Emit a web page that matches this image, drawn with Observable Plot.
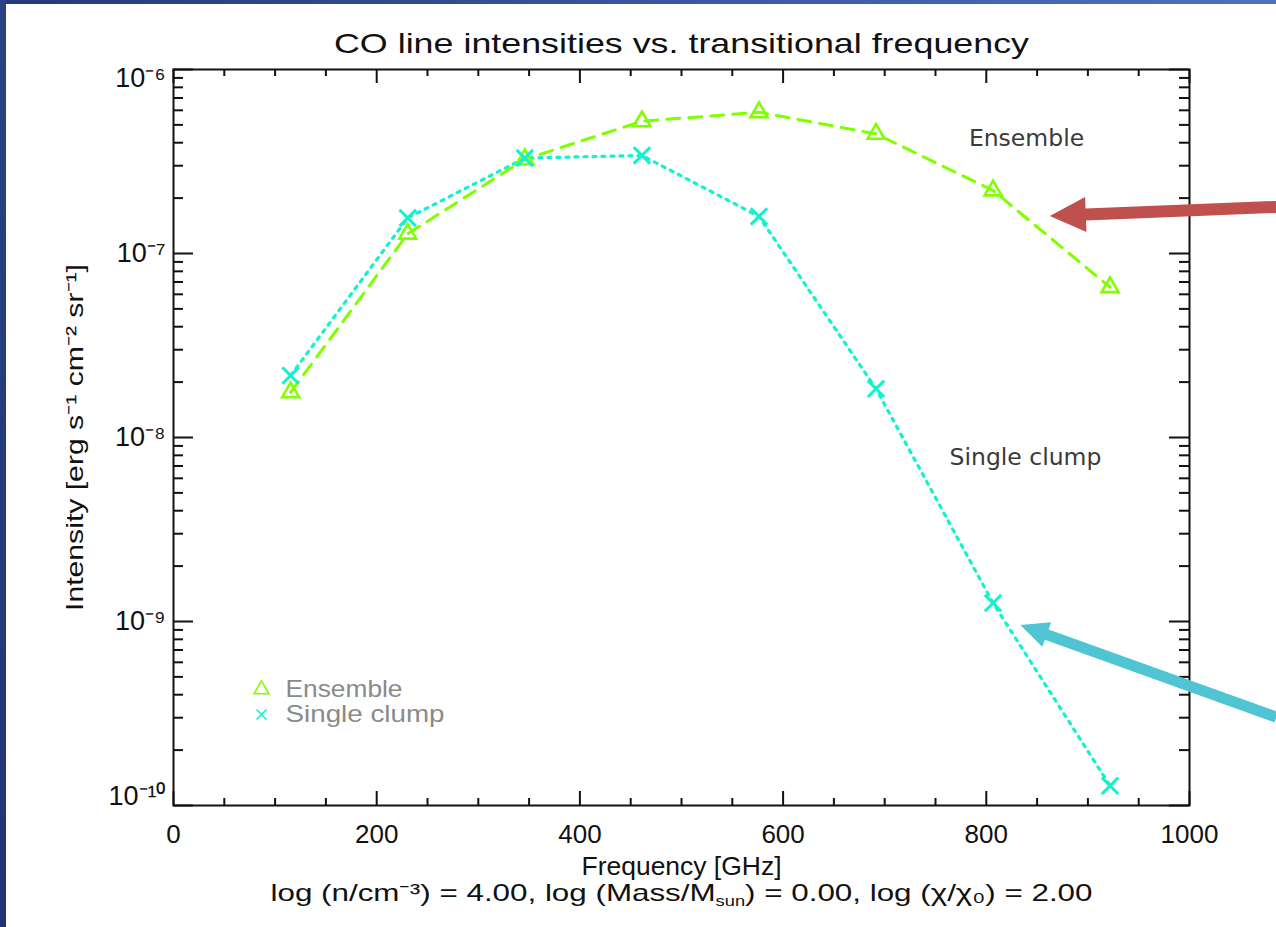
<!DOCTYPE html>
<html>
<head>
<meta charset="utf-8">
<script src="https://cdn.jsdelivr.net/npm/d3@7"></script>
<script src="https://cdn.jsdelivr.net/npm/@observablehq/plot@0.6"></script>
<style>
  html, body { margin: 0; padding: 0; background: #ffffff; width: 1276px; height: 927px; overflow: hidden; }
  #topband { position: absolute; left: 0; top: 0; width: 1276px; height: 4px; background: linear-gradient(to right, #24397a, #5072b8); }
  #leftband { position: absolute; left: 0; top: 0; width: 6px; height: 927px; background: linear-gradient(to bottom, #2a4282, #1f3375); }
  #chart { position: absolute; left: 0; top: 0; }
</style>
</head>
<body>
<div id="chart"></div>
<div id="topband"></div>
<div id="leftband"></div>
<script>
// ---- data ----
const frequencies = [115.27, 230.54, 345.80, 461.04, 576.27, 691.47, 806.65, 921.80];
const ensembleIntensity = [1.76e-8, 1.28e-7, 3.25e-7, 5.23e-7, 5.86e-7, 4.47e-7, 2.20e-7, 6.56e-8];
const singleIntensity = [2.17e-8, 1.56e-7, 3.30e-7, 3.41e-7, 1.59e-7, 1.84e-8, 1.26e-9, 1.28e-10];
const xMajorTicks = [0, 200, 400, 600, 800, 1000];
const xMinorTicks = [50, 100, 150, 250, 300, 350, 450, 500, 550, 650, 700, 750, 850, 900, 950];
const yDecades = [1e-10, 1e-9, 1e-8, 1e-7, 1e-6];
const yMinorTicks = [-10, -9, -8, -7].flatMap(e => [2, 3, 4, 5, 6, 7, 8, 9].map(m => m * Math.pow(10, e)));
const titleText = "CO line intensities vs. transitional frequency";
const xLabel = "Frequency [GHz]";
const yLabel = "Intensity [erg s\u207B\u00B9 cm\u207B\u00B2 sr\u207B\u00B9]";
const captionParts = ["log (n/cm\u207B\u00B3) = 4.00, log (Mass/M", "sun", ") = 0.00, log (\u03C7/\u03C7\u2080) = 2.00"];
const legendLabels = ["Ensemble", "Single clump"];
const annotationLabels = ["Ensemble", "Single clump"];
// annotation arrows (data units): start -> tip
const arrowRed = {x1: 1086, y1: 1.78e-7, x2: 863, y2: 1.59e-7};
const arrowBlue = {x1: 1086, y1: 3.0e-10, x2: 834, y2: 9.5e-10};

const ensembleRows = frequencies.map((f, i) => ({f, v: ensembleIntensity[i]}));
const singleRows = frequencies.map((f, i) => ({f, v: singleIntensity[i]}));

const W = 1276, H = 927, mL = 173, mR = 87, mT = 69, mB = 122;
const frameW = W - mL - mR, frameH = H - mT - mB;
const GREEN = "#80ff00", CYAN = "#12f2cc", INK = "#111";
const supDigits = {"0":"\u2070","1":"\u00B9","2":"\u00B2","3":"\u00B3","4":"\u2074","5":"\u2075","6":"\u2076","7":"\u2077","8":"\u2078","9":"\u2079","-":"\u207B"};
const fmtPow = d => "10" + String(Math.round(Math.log10(d))).split("").map(c => supDigits[c]).join("");
const M = "middle";

const plot = Plot.plot({
  width: W, height: H,
  marginLeft: mL, marginRight: mR, marginTop: mT, marginBottom: mB,
  style: {fontFamily: "Liberation Sans, Arial, sans-serif", background: "transparent", color: INK},
  x: {domain: [0, 1000], axis: null},
  y: {type: "log", domain: [1e-10, 1e-6], axis: null},
  marks: [
    // ticks (inward, on all four sides)
    Plot.tickY(yDecades, {y: d => d, insetRight: frameW - 20, stroke: INK, strokeWidth: 2}),
    Plot.tickY(yDecades, {y: d => d, insetLeft: frameW - 20, stroke: INK, strokeWidth: 2}),
    Plot.tickY(yMinorTicks, {y: d => d, insetRight: frameW - 10, stroke: INK, strokeWidth: 2}),
    Plot.tickY(yMinorTicks, {y: d => d, insetLeft: frameW - 10, stroke: INK, strokeWidth: 2}),
    Plot.tickX(xMajorTicks, {x: d => d, insetTop: frameH - 14, stroke: INK, strokeWidth: 2}),
    Plot.tickX(xMajorTicks, {x: d => d, insetBottom: frameH - 14, stroke: INK, strokeWidth: 2}),
    Plot.tickX(xMinorTicks, {x: d => d, insetTop: frameH - 7, stroke: INK, strokeWidth: 2}),
    Plot.tickX(xMinorTicks, {x: d => d, insetBottom: frameH - 7, stroke: INK, strokeWidth: 2}),
    Plot.frame({stroke: INK, strokeWidth: 2}),
    // tick labels
    Plot.text(xMajorTicks, {x: d => d, text: d => String(d), frameAnchor: "bottom", lineAnchor: M, dy: 29, fontSize: 26, fill: INK}),
    Plot.text(yDecades.slice(1, 4), {y: d => d, text: fmtPow, frameAnchor: "left", lineAnchor: M, dx: -8, textAnchor: "end", fontSize: 27, fill: INK}),
    Plot.text(yDecades.slice(4), {y: d => d, text: fmtPow, frameAnchor: "left", lineAnchor: M, dx: -8, dy: 9, textAnchor: "end", fontSize: 27, fill: INK}),
    Plot.text(yDecades.slice(0, 1), {y: d => d, text: fmtPow, frameAnchor: "left", lineAnchor: M, dx: -8, dy: -9, textAnchor: "end", fontSize: 27, fill: INK}),
    // axis titles
    Plot.text([titleText], {text: d => d, frameAnchor: "top", lineAnchor: M, dy: -25, fontSize: 28, fill: INK}),
    Plot.text([xLabel], {text: d => d, frameAnchor: "bottom", lineAnchor: M, dy: 61, fontSize: 25, fill: INK}),
    Plot.text([yLabel], {text: d => d, frameAnchor: "left", lineAnchor: M, dx: -98, rotate: -90, textAnchor: "middle", fontSize: 24, fill: INK}),
    Plot.text([captionParts.join("")], {text: d => d, frameAnchor: "bottom", lineAnchor: M, dy: 88, fontSize: 24, fill: INK}),
    // data
    Plot.line(ensembleRows, {x: "f", y: "v", stroke: GREEN, strokeWidth: 3, strokeDasharray: "13,9"}),
    Plot.line(singleRows, {x: "f", y: "v", stroke: CYAN, strokeWidth: 3.2, strokeDasharray: "3,6"}),
    Plot.dot(ensembleRows, {x: "f", y: "v", symbol: "triangle", r: 6.3, stroke: GREEN, fill: "none", strokeWidth: 2.6}),
    Plot.dot(singleRows, {x: "f", y: "v", symbol: "times", r: 7.5, stroke: CYAN, strokeWidth: 3}),
    // legend inside frame
    Plot.dot([0], {symbol: "triangle", r: 5.5, stroke: GREEN, fill: "none", strokeWidth: 1.6, frameAnchor: "bottom-left", dx: 88, dy: -116}),
    Plot.dot([0], {symbol: "times", r: 4.6, stroke: CYAN, strokeWidth: 1.6, frameAnchor: "bottom-left", dx: 88, dy: -91}),
    Plot.text([legendLabels[0]], {text: d => d, frameAnchor: "bottom-left", lineAnchor: M, dx: 112, dy: -116, textAnchor: "start", fontSize: 24, fill: "#8a8a8a"}),
    Plot.text([legendLabels[1]], {text: d => d, frameAnchor: "bottom-left", lineAnchor: M, dx: 112, dy: -91, textAnchor: "start", fontSize: 24, fill: "#8a8a8a"}),
    // annotations
    Plot.text([annotationLabels[0]], {text: d => d, frameAnchor: "top-right", lineAnchor: M, dx: -163, dy: 69, textAnchor: "middle", fontSize: 23.5, fill: "#3a3a3a", fontFamily: "DejaVu Sans"}),
    Plot.text([annotationLabels[1]], {text: d => d, frameAnchor: "top-right", lineAnchor: M, dx: -164, dy: 388, textAnchor: "middle", fontSize: 23.5, fill: "#3a3a3a", fontFamily: "DejaVu Sans"})
  ]
});

document.getElementById("chart").appendChild(plot);

// fit text widths to the reference, and add the subscript in the caption
const svg = d3.select(plot);
const caption = captionParts.join("");
const fits = new Map([
  [titleText, 695], [xLabel, 200], [yLabel, 347], [caption, 822]
]);
const legendFits = new Map([[legendLabels[0], 117], [legendLabels[1], 159]]);
svg.selectAll("text").each(function () {
  const t = this.textContent;
  const sel = d3.select(this);
  if (fits.has(t)) {
    if (t === caption) {
      sel.text(null);
      sel.append("tspan").text(captionParts[0]);
      sel.append("tspan").attr("font-size", 14).attr("dy", 5).text(captionParts[1]);
      sel.append("tspan").attr("dy", -5).text(captionParts[2]);
    }
    sel.attr("textLength", fits.get(t)).attr("lengthAdjust", "spacingAndGlyphs");
  } else if (legendFits.has(t) && this.closest("g") && this.closest("g").getAttribute("fill") === "#8a8a8a") {
    sel.attr("textLength", legendFits.get(t)).attr("lengthAdjust", "spacingAndGlyphs");
  }
});

// filled annotation arrows
const sx = plot.scale("x"), sy = plot.scale("y");
function drawArrow(a, color, shaft, headLen, headW) {
  const x1 = sx.apply(a.x1), y1 = sy.apply(a.y1), x2 = sx.apply(a.x2), y2 = sy.apply(a.y2);
  const dx = x2 - x1, dy = y2 - y1, L = Math.hypot(dx, dy);
  const ux = dx / L, uy = dy / L, px = -uy, py = ux;
  const bx = x2 - ux * headLen, by = y2 - uy * headLen;
  const pts = [
    [x1 + px * shaft / 2, y1 + py * shaft / 2],
    [bx + px * shaft / 2, by + py * shaft / 2],
    [bx + px * headW / 2, by + py * headW / 2],
    [x2, y2],
    [bx - px * headW / 2, by - py * headW / 2],
    [bx - px * shaft / 2, by - py * shaft / 2],
    [x1 - px * shaft / 2, y1 - py * shaft / 2]
  ];
  svg.append("path").attr("d", "M" + pts.map(p => p.join(",")).join("L") + "Z").attr("fill", color);
}
drawArrow(arrowRed, "#c0504d", 12, 36, 35);
drawArrow(arrowBlue, "#4fc5d3", 11, 28, 26);
</script>
</body>
</html>
